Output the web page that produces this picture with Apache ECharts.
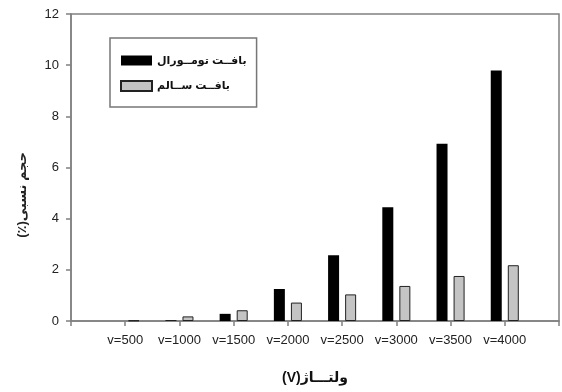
<!DOCTYPE html>
<html>
<head>
<meta charset="utf-8">
<script src="https://cdn.jsdelivr.net/npm/echarts@6/dist/echarts.min.js"></script>
<style>
  html, body { margin: 0; padding: 0; background: #fff; }
  #chart { width: 562px; height: 392px; }
</style>
</head>
<body>
<div id="chart"></div>
<script>
// Voltage steps (padded with empty slots at both ends of the axis)
const categories = ['', 'v=500', 'v=1000', 'v=1500', 'v=2000', 'v=2500', 'v=3000', 'v=3500', 'v=4000', ''];
// Relative volume (%) per voltage
const tumorValues = [null, 0, 0.03, 0.28, 1.25, 2.57, 4.45, 6.93, 9.79, null];
const healthyValues = [null, 0.02, 0.18, 0.42, 0.72, 1.04, 1.37, 1.76, 2.18, null];
const seriesNames = ['بافــت تومــورال', 'بافــت ســالم'];
const yTicks = { min: 0, max: 12, interval: 2 };

const FONT = "Arial, 'Liberation Sans', 'DejaVu Sans', sans-serif";
const AXIS_COLOR = '#808080';

const chart = echarts.init(document.getElementById('chart'), null, { renderer: 'canvas' });

chart.setOption({
  animation: false,
  backgroundColor: '#ffffff',
  grid: {
    left: 71, top: 14, right: 1, bottom: 71,
    show: true, borderColor: AXIS_COLOR, borderWidth: 1.5, backgroundColor: 'transparent'
  },
  legend: {
    left: 110, top: 38,
    orient: 'vertical',
    padding: [17, 10, 15, 10],
    itemWidth: 31, itemHeight: 10, itemGap: 14,
    borderColor: '#777', borderWidth: 1.5,
    icon: 'rect',
    textStyle: { fontFamily: FONT, fontSize: 11, fontWeight: 'bold', color: '#111', width: 82 },
    data: seriesNames
  },
  xAxis: {
    type: 'category',
    data: categories,
    boundaryGap: false,
    axisLine: { lineStyle: { color: AXIS_COLOR, width: 1.5 } },
    axisTick: { show: true, interval: 0, length: 5, lineStyle: { color: AXIS_COLOR, width: 1.5 } },
    axisLabel: { interval: 0, margin: 13, fontFamily: FONT, fontSize: 13, color: '#222' },
    splitLine: { show: false }
  },
  yAxis: {
    type: 'value',
    min: yTicks.min, max: yTicks.max, interval: yTicks.interval,
    axisLine: { show: true, lineStyle: { color: AXIS_COLOR, width: 1.5 } },
    axisTick: { show: true, length: 5, lineStyle: { color: AXIS_COLOR, width: 1.5 } },
    axisLabel: { margin: 12, fontFamily: FONT, fontSize: 13, color: '#222' },
    splitLine: { show: false }
  },
  graphic: [
    {
      // axis titles: the unit sits on the left so it reads right-to-left
      type: 'text', x: 22, y: 195, rotation: Math.PI / 2,
      style: {
        text: '(٪)حجم نسبی', fontFamily: FONT, fontSize: 13, fontWeight: 'bold',
        fill: '#222', align: 'center', verticalAlign: 'middle'
      }
    },
    {
      type: 'text', x: 315, y: 378,
      style: {
        text: '(V)ولتـــاژ', fontFamily: FONT, fontSize: 14, fontWeight: 'bold',
        fill: '#111', align: 'center', verticalAlign: 'middle'
      }
    }
  ],
  series: [
    {
      name: seriesNames[0], type: 'bar', data: tumorValues,
      barWidth: 11, barGap: '55%',
      itemStyle: { color: '#000000', borderColor: '#000000', borderWidth: 0 }
    },
    {
      name: seriesNames[1], type: 'bar', data: healthyValues,
      barWidth: 11,
      itemStyle: { color: '#c4c4c4', borderColor: '#222222', borderWidth: 1 }
    }
  ]
});
</script>
</body>
</html>
